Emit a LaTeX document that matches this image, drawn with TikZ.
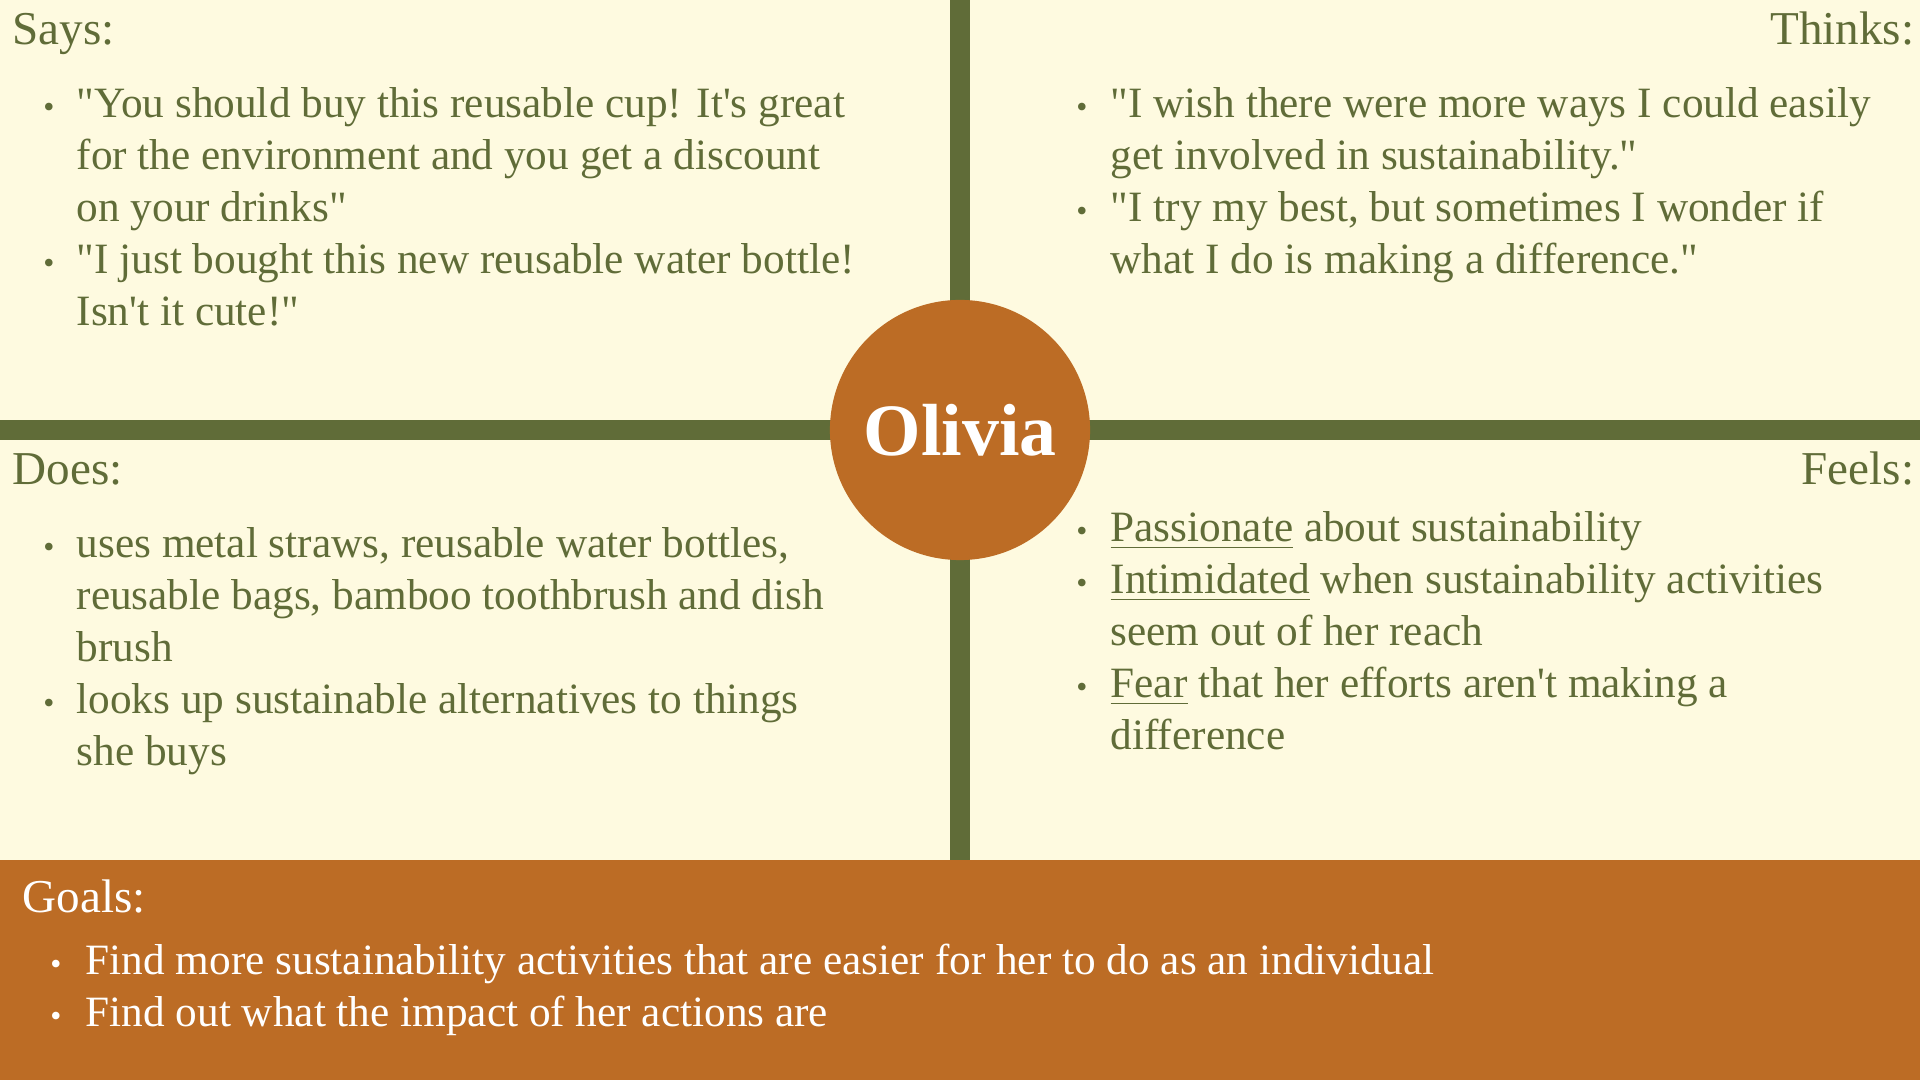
\documentclass[tikz,border=0pt]{standalone}
\usepackage{fontspec}
\setmainfont{Liberation Serif}[Ligatures=TeXOff]
\definecolor{mapgreen}{HTML}{606C38}
\definecolor{mapcream}{HTML}{FEFAE0}
\definecolor{maporange}{HTML}{BC6C25}

\begin{document}
\begin{tikzpicture}[
            x=0.01cm,
            y=-0.01cm,
            heading/.style={
                text=mapgreen,
                inner sep=0pt,
                font=\fontsize{13.4}{16}\selectfont
            },
            item/.style={
                text=mapgreen,
                inner sep=0pt,
                anchor=base west,
                align=left,
                font=\fontsize{12.3}{14.8}\selectfont
            },
            dot/.style={
                text=mapgreen,
                inner sep=0pt,
                anchor=base,
                font=\fontsize{9}{10}\selectfont
            }
        ]

            \useasboundingbox (0,0) rectangle (1920,1080);

            % background, bars and goals band
            \fill[mapcream] (0,0) rectangle (1920,1080);
            \fill[maporange] (0,860) rectangle (1920,1080);
            \fill[mapgreen] (950,0) rectangle (970,860);
            \fill[mapgreen] (0,420) rectangle (1920,440);

            \node[circle, fill=maporange, minimum size=2.6cm, inner sep=0pt,
                text=white, font=\fontsize{21}{24}\selectfont\bfseries]
                (name) at (960,430) {Olivia};

            % says (items sit on the baseline of their last line)
            \node[heading, anchor=base west] (says) at (12,45) {Says:};
            \node[dot] (sd1) at (49,118) {•};
            \node[item] (s1) at (76,222) {"You should buy this reusable cup! It's great\\
                for the environment and you get a discount\\ on your drinks"};
            \node[dot] (sd2) at (49,274) {•};
            \node[item] (s2) at (76,326) {"I just bought this new reusable water bottle!\\
                Isn't it cute!"};

            % thinks
            \node[heading, anchor=base east] (thinks) at (1915,45) {Thinks:};
            \node[dot] (td1) at (1082,118) {•};
            \node[item] (t1) at (1110,170) {"I wish there were more ways I could easily\\
                get involved in sustainability."};
            \node[dot] (td2) at (1082,222) {•};
            \node[item] (t2) at (1110,274) {"I try my best, but sometimes I wonder if\\
                what I do is making a difference."};

            % does
            \node[heading, anchor=base west] (does) at (12,485) {Does:};
            \node[dot] (dd1) at (49,558) {•};
            \node[item] (d1) at (76,662) {uses metal straws, reusable water bottles,\\
                reusable bags, bamboo toothbrush and dish\\ brush};
            \node[dot] (dd2) at (49,714) {•};
            \node[item] (d2) at (76,766) {looks up sustainable alternatives to things\\
                she buys};

            % feels
            \node[heading, anchor=base east] (feels) at (1915,485) {Feels:};
            \node[dot] (fd1) at (1082,542) {•};
            \node[item] (f1) at (1110,542) {\underline{Passionate} about sustainability};
            \node[dot] (fd2) at (1082,594) {•};
            \node[item] (f2) at (1110,646) {\underline{Intimidated} when sustainability activities\\
                seem out of her reach};
            \node[dot] (fd3) at (1082,698) {•};
            \node[item] (f3) at (1110,750) {\underline{Fear} that her efforts aren't making a\\
                difference};

            % goals
            \node[heading, anchor=base west, text=white] (goals) at (22,913) {Goals:};
            \node[dot, text=white] (gd1) at (56,975) {•};
            \node[item, text=white] (g1) at (85,975)
                {Find more sustainability activities that are easier for her to do as an individual};
            \node[dot, text=white] (gd2) at (56,1027) {•};
            \node[item, text=white] (g2) at (85,1027)
                {Find out what the impact of her actions are};

        \end{tikzpicture}
\end{document}
